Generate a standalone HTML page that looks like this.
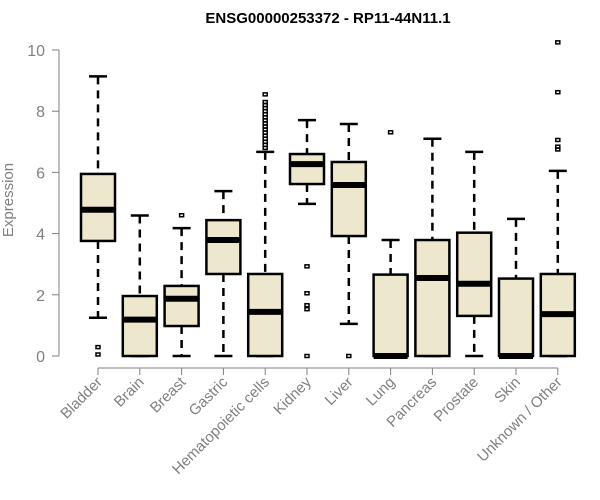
<!DOCTYPE html>
<html><head><meta charset="utf-8"><style>
body{margin:0;background:#fff;}
svg{display:block;font-family:"Liberation Sans",sans-serif;}
</style></head><body>
<svg id="chart" width="600" height="500">
<text x="328" y="23" text-anchor="middle" font-size="15" font-weight="bold">ENSG00000253372 - RP11-44N11.1</text>
<text transform="translate(13,200) rotate(-90)" text-anchor="middle" font-size="15" fill="#808080">Expression</text>
<g id="axes"></g>
<g id="boxes"></g>
</svg>
<script>
const categories=["Bladder","Brain","Breast","Gastric","Hematopoietic cells","Kidney","Liver","Lung","Pancreas","Prostate","Skin","Unknown / Other"];
const lowerWhisker=[1.25,0,0,0,0,4.97,1.05,0,0,0,0,0];
const q1=[3.76,0,0.98,2.68,0,5.62,3.92,0,0,1.31,0,0];
const medians=[4.78,1.19,1.87,3.79,1.44,6.27,5.59,0,2.55,2.36,0,1.37];
const q3=[5.95,1.96,2.29,4.44,2.68,6.6,6.34,2.66,3.79,4.03,2.53,2.68];
const upperWhisker=[9.14,4.59,4.18,5.39,6.67,7.71,7.58,3.79,7.1,6.67,4.48,6.05];
const outliers=[[0.29,0.05],[],[4.6],[],[6.8,6.9,7.0,7.1,7.2,7.3,7.4,7.5,7.6,7.7,7.8,7.9,8.0,8.1,8.2,8.3,8.55],[2.93,2.05,1.66,1.53,0],[0],[7.31],[],[],[],[10.25,8.62,7.06,6.84,6.75]];
const yTicks=[0,2,4,6,8,10];
const NS="http://www.w3.org/2000/svg";
const y=v=>356-30.6*v;
const x=i=>98+i*41.8;
const bw=34;
const ax=document.getElementById('axes'), bx=document.getElementById('boxes');
function mk(tag,attrs,parent){const e=document.createElementNS(NS,tag);for(const k in attrs)e.setAttribute(k,attrs[k]);parent.appendChild(e);return e;}
let e=mk('line',{x1:59,x2:59,y1:y(0),y2:y(10),stroke:'#808080'},ax);


yTicks.forEach(t=>{
 let l=mk('line',{x1:52,x2:59,y1:y(t),y2:y(t),stroke:'#808080'},ax);
 
 
 let tx=mk('text',{x:45,y:y(t)+6,'text-anchor':'end','font-size':16,fill:'#808080'},ax);
 tx.textContent=t;
 
 
});
e=mk('line',{x1:x(0),x2:x(categories.length-1),y1:368,y2:368,stroke:'#808080'},ax);


categories.forEach((c,i)=>{
 const cx=x(i);
 let l=mk('line',{x1:cx,x2:cx,y1:368,y2:375,stroke:'#808080'},ax);
 
 
 let tx=mk('text',{transform:`translate(${cx+5},${383}) rotate(-45)`,'text-anchor':'end','font-size':15,fill:'#808080'},ax);
 tx.textContent=c;
 
 
 const g=mk('g',{},bx);
 
 
 mk('line',{x1:cx,x2:cx,y1:y(upperWhisker[i]),y2:y(q3[i]),stroke:'#000','stroke-width':2.5,'stroke-dasharray':'8,6'},g);
 mk('line',{x1:cx,x2:cx,y1:y(q1[i]),y2:y(lowerWhisker[i]),stroke:'#000','stroke-width':2.5,'stroke-dasharray':'8,6'},g);
 mk('line',{x1:cx-9,x2:cx+9,y1:y(upperWhisker[i]),y2:y(upperWhisker[i]),stroke:'#000','stroke-width':2.5},g);
 mk('line',{x1:cx-9,x2:cx+9,y1:y(lowerWhisker[i]),y2:y(lowerWhisker[i]),stroke:'#000','stroke-width':2.5},g);
 mk('rect',{x:cx-bw/2,y:y(q3[i]),width:bw,height:Math.max(y(q1[i])-y(q3[i]),0.1),fill:'#ede7cd',stroke:'#000','stroke-width':2.5},g);
 mk('line',{x1:cx-bw/2,x2:cx+bw/2,y1:y(medians[i]),y2:y(medians[i]),stroke:'#000','stroke-width':6},g);
 outliers[i].forEach(o=>{
  let p=mk('rect',{x:cx-2,y:y(o)-1.5,width:4,height:3,fill:'none',stroke:'#000','stroke-width':1.5},g);
  
  
 });
});
</script>
</body></html>
